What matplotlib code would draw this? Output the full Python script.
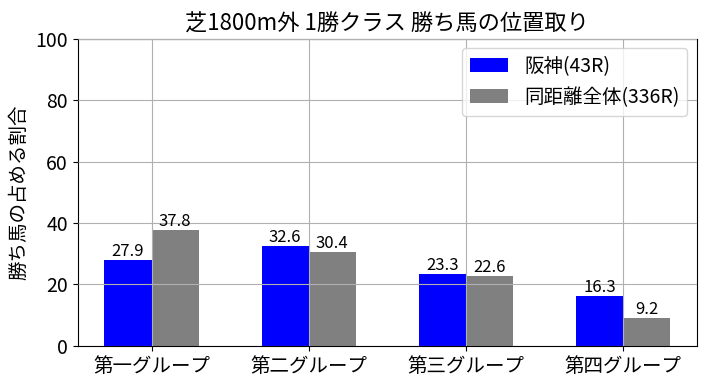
import numpy as np
import matplotlib
matplotlib.use("Agg")
import matplotlib.pyplot as plt

plt.rcParams["font.family"] = ["Noto Sans CJK JP", "DejaVu Sans"]

# Data
groups = ["第一グループ", "第二グループ", "第三グループ", "第四グループ"]
hanshin = [27.9, 32.6, 23.3, 16.3]
overall = [37.8, 30.4, 22.6, 9.2]
labels = ["阪神(43R)", "同距離全体(336R)"]

x = np.arange(len(groups))
w = 0.3

fig, ax = plt.subplots(figsize=(7.06, 3.86), dpi=100)
b1 = ax.bar(x - w / 2, hanshin, w, color="blue", label=labels[0])
b2 = ax.bar(x + w / 2, overall, w, color="gray", label=labels[1])

for bars in (b1, b2):
    for r in bars:
        ax.text(r.get_x() + r.get_width() / 2, r.get_height(), f"{r.get_height():.1f}",
                ha="center", va="bottom", fontsize=12)

ax.set_axisbelow(False)
ax.grid(True, color="#b0b0b0", linewidth=0.8)
ax.set_xticks(x)
ax.set_xticklabels(groups, fontsize=14)
ax.tick_params(axis="y", labelsize=14)
ax.set_ylim(0, 100)
ax.set_xlim(-0.47, 3.47)
ax.set_ylabel("勝ち馬の占める割合", fontsize=14)
ax.set_title("芝1800m外 1勝クラス 勝ち馬の位置取り", fontsize=16)
ax.legend(loc="upper right", fontsize=14)

plt.subplots_adjust(left=0.11, right=0.987, top=0.9, bottom=0.104)
plt.savefig("out.png")
